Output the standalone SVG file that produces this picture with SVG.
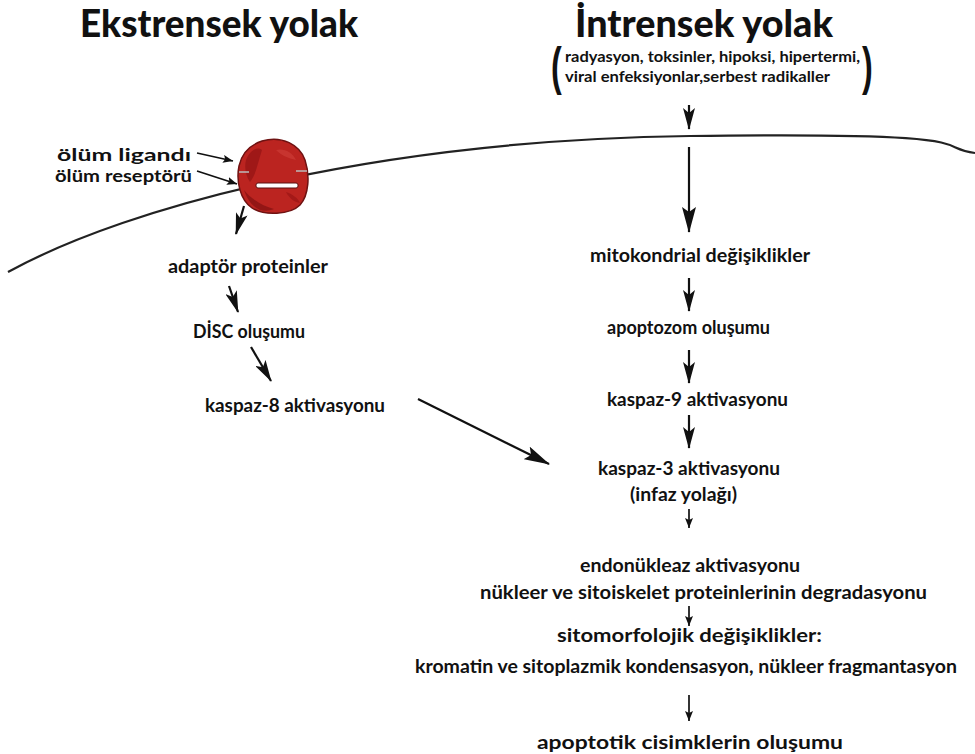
<svg xmlns="http://www.w3.org/2000/svg" width="975" height="754" viewBox="0 0 975 754">
  <style>
    text { font-family: Lato, "Open Sans", "Liberation Sans", sans-serif; font-weight: 700; fill: #111; }
    .title { font-size: 38px; font-weight: 900; }
    .lbl { font-size: 19px; }
    .side { font-size: 17px; }
    .note { font-size: 16px; }
    .paren { font-family: "Liberation Sans", sans-serif; font-size: 52px; font-weight: 700; }
    .arrow { stroke: #111; stroke-width: 2.2; fill: none; }
    .thin { stroke: #111; stroke-width: 1.7; fill: none; }
  </style>
  <defs>
    <marker id="head" viewBox="0 0 22 12" refX="21" refY="6" markerWidth="22" markerHeight="12" markerUnits="userSpaceOnUse" orient="auto">
      <path d="M0,0 L22,6 L0,12 L5,6 Z" fill="#111"/>
    </marker>
    <marker id="headL" viewBox="0 0 26 14" refX="25" refY="7" markerWidth="26" markerHeight="14" markerUnits="userSpaceOnUse" orient="auto">
      <path d="M0,0 L26,7 L0,14 L5,7 Z" fill="#111"/>
    </marker>
    <marker id="headS" viewBox="0 0 10 8" refX="10" refY="4" markerWidth="10" markerHeight="8" markerUnits="userSpaceOnUse" orient="auto">
      <path d="M0,0 L10,4 L0,8 L2,4 Z" fill="#111"/>
    </marker>
  </defs>

  <rect width="975" height="754" fill="#fff"/>

  <!-- cell membrane -->
  <path id="membrane" d="M 8 272 C 130 205, 380 140, 690 136 S 930 147, 975 153" fill="none" stroke="#222" stroke-width="2.2"/>

  <!-- death receptor complex sitting in the membrane -->
  <g id="receptor">
    <path d="M 262 141 C 282 135, 300 145, 305 160 C 310 175, 309 195, 300 205 C 290 215, 264 216, 252 208 C 240 200, 236 181, 239 166 C 242 152, 250 145, 262 141 Z" fill="#bb2420" stroke="#6e1212" stroke-width="1.5"/>
    <path d="M 246 160 C 250 150, 258 146, 262 150 C 258 162, 256 175, 250 182 C 246 176, 244 168, 246 160 Z" fill="#9a1616" opacity="0.85"/>
    <path d="M 244 190 C 250 198, 262 206, 274 209 C 262 214, 250 208, 244 190 Z" fill="#8c1414" opacity="0.85"/>
    <path d="M 276 150 C 284 148, 292 152, 296 160 C 288 158, 282 156, 276 150 Z" fill="#cc3c36" opacity="0.7"/>
    <path d="M 286 192 C 292 194, 298 198, 300 203 C 294 202, 289 198, 286 192 Z" fill="#9a1616" opacity="0.7"/>
    <rect x="256" y="183" width="42" height="5" rx="2" fill="#fff" stroke="#5a1010" stroke-width="1"/>
    <line x1="239" y1="172" x2="249" y2="172" stroke="#bbb" stroke-width="1.5"/>
    <line x1="296" y1="171" x2="307" y2="171" stroke="#bbb" stroke-width="1.5"/>
  </g>

  <!-- titles -->
  <g id="title-extrinsic"><text class="title" x="80" y="37" textLength="278" lengthAdjust="spacingAndGlyphs">Ekstrensek yolak</text></g>
  <g id="title-intrinsic"><text class="title" x="575" y="37" textLength="258" lengthAdjust="spacingAndGlyphs">İntrensek yolak</text></g>

  <g id="triggers">
    <text class="paren" x="0" y="0" transform="translate(551 84) scale(0.62 1)">(</text>
    <text class="paren" x="0" y="0" transform="translate(862 84) scale(0.62 1)">)</text>
    <text class="note" x="565" y="62" textLength="295" lengthAdjust="spacingAndGlyphs">radyasyon, toksinler, hipoksi, hipertermi,</text>
    <text class="note" x="565" y="82" textLength="265" lengthAdjust="spacingAndGlyphs">viral enfeksiyonlar,serbest radikaller</text>
  </g>

  <!-- extrinsic pathway -->
  <g id="n-ligand"><text class="lbl side" x="57" y="161" textLength="134" lengthAdjust="spacingAndGlyphs">ölüm ligandı</text></g>
  <g id="n-receptor"><text class="lbl side" x="55" y="182" textLength="137" lengthAdjust="spacingAndGlyphs">ölüm reseptörü</text></g>
  <g id="n-adaptor"><text class="lbl" x="168" y="273" textLength="160" lengthAdjust="spacingAndGlyphs">adaptör proteinler</text></g>
  <g id="n-disc"><text class="lbl" x="193" y="338" textLength="112" lengthAdjust="spacingAndGlyphs">DİSC oluşumu</text></g>
  <g id="n-casp8"><text class="lbl" x="205" y="412" textLength="180" lengthAdjust="spacingAndGlyphs">kaspaz-8 aktivasyonu</text></g>

  <!-- intrinsic / common pathway -->
  <g id="n-mito"><text class="lbl" x="590" y="262" textLength="220" lengthAdjust="spacingAndGlyphs">mitokondrial değişiklikler</text></g>
  <g id="n-apoptosome"><text class="lbl" x="607" y="334" textLength="163" lengthAdjust="spacingAndGlyphs">apoptozom oluşumu</text></g>
  <g id="n-casp9"><text class="lbl" x="607" y="406" textLength="181" lengthAdjust="spacingAndGlyphs">kaspaz-9 aktivasyonu</text></g>
  <g id="n-casp3">
    <text class="lbl" x="598" y="475" textLength="182" lengthAdjust="spacingAndGlyphs">kaspaz-3 aktivasyonu</text>
    <text class="lbl" x="630" y="501" textLength="107" lengthAdjust="spacingAndGlyphs">(infaz yolağı)</text>
  </g>
  <g id="n-endo">
    <text class="lbl" x="580" y="572" textLength="220" lengthAdjust="spacingAndGlyphs">endonükleaz aktivasyonu</text>
    <text class="lbl" x="480" y="599" textLength="447" lengthAdjust="spacingAndGlyphs">nükleer ve sitoiskelet proteinlerinin degradasyonu</text>
  </g>
  <g id="n-morph">
    <text class="lbl" x="557" y="642" textLength="265" lengthAdjust="spacingAndGlyphs">sitomorfolojik değişiklikler:</text>
    <text class="lbl" x="415" y="673" textLength="542" lengthAdjust="spacingAndGlyphs">kromatin ve sitoplazmik kondensasyon, nükleer fragmantasyon</text>
  </g>
  <g id="n-bodies"><text class="lbl" x="537" y="749" textLength="306" lengthAdjust="spacingAndGlyphs">apoptotik cisimklerin oluşumu</text></g>

  <!-- connectors -->
  <g id="connectors">
    <line class="thin" x1="197" y1="153" x2="233" y2="161" marker-end="url(#headS)"/>
    <line class="thin" x1="197" y1="171" x2="237" y2="184" marker-end="url(#headS)"/>
    <line class="arrow" x1="244" y1="206" x2="236" y2="234" marker-end="url(#head)"/>
    <line class="arrow" x1="229" y1="286" x2="238" y2="312" marker-end="url(#head)"/>
    <line class="arrow" x1="251" y1="347" x2="271" y2="381" marker-end="url(#head)"/>
    <line class="arrow" x1="418" y1="399" x2="549" y2="464" marker-end="url(#headL)"/>

    <line class="arrow" x1="689" y1="105" x2="689" y2="129" marker-end="url(#head)"/>
    <line class="arrow" x1="689" y1="147" x2="689" y2="232" stroke-width="2.6" marker-end="url(#headL)"/>
    <line class="arrow" x1="689" y1="278" x2="689" y2="311" marker-end="url(#head)"/>
    <line class="arrow" x1="689" y1="350" x2="689" y2="383" marker-end="url(#head)"/>
    <line class="arrow" x1="689" y1="415" x2="689" y2="448" marker-end="url(#head)"/>
    <line class="thin" x1="689" y1="509" x2="689" y2="528" marker-end="url(#headS)"/>
    <line class="thin" x1="689" y1="606" x2="689" y2="626" marker-end="url(#headS)"/>
    <line class="thin" x1="689" y1="695" x2="689" y2="721" marker-end="url(#headS)"/>
  </g>
</svg>
